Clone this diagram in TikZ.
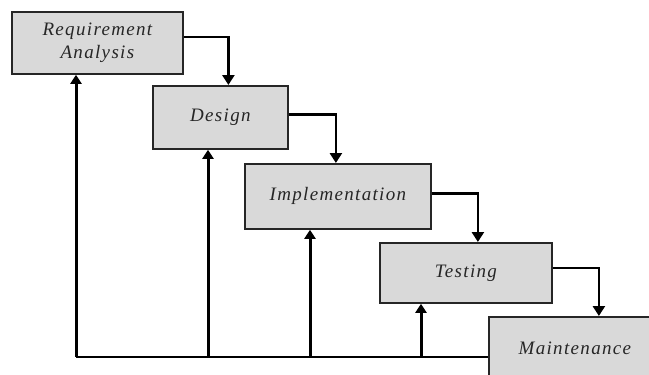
\documentclass[tikz,border=0pt]{standalone}
\usepackage{fontspec}
\setmainfont{Liberation Serif}
\usetikzlibrary{arrows.meta}

\tikzset{
  phase/.style={draw=black!85, line width=1.8pt, fill=black!15, anchor=north west,
    font=\fontsize{19}{23}\selectfont\itshape\addfontfeature{LetterSpace=7},
    text=black!85, align=center, inner sep=0pt},
  flow/.style={draw=black, line width=2.6pt, -{Triangle[width=12pt,length=10pt]}},
  back/.style={draw=black, line width=3pt, -{Triangle[width=11pt,length=9pt]}}
}

\begin{document}
\begin{tikzpicture}[x=1pt,y=-1pt]
  \useasboundingbox (0,0) rectangle (649,375);

  % the five phases
  \node[phase, minimum width=171pt, minimum height=62pt] (req) at (11,11) {Requirement\\Analysis};
  \node[phase, minimum width=135pt, minimum height=63pt] (des) at (152,85) {Design};
  \node[phase, minimum width=186pt, minimum height=65pt] (imp) at (244,163) {Implementation};
  \node[phase, minimum width=172pt, minimum height=60pt] (tst) at (379,242) {Testing};
  \node[phase, minimum width=172pt, minimum height=62pt] (mnt) at (488,316) {Maintenance};

  % going down the steps
  \draw[flow] ([yshift=6pt]req.east) -| ([xshift=8pt]des.north);
  \draw[flow] ([yshift=3pt]des.east) -| ([xshift=-2pt]imp.north);
  \draw[flow] ([yshift=3pt]imp.east) -| ([xshift=12pt]tst.north);
  \draw[flow] ([yshift=5pt]tst.east) -| ([xshift=24pt]mnt.north);

  % feedback lines
  \coordinate (b1) at (76,357);
  \coordinate (b2) at (208,357);
  \coordinate (b3) at (310,357);
  \coordinate (b4) at (421,357);
  \draw[black, line width=2pt] (b1) -- (b1 -| mnt.west);
  \draw[back] (b1) -- (b1 |- req.south);
  \draw[back] (b2) -- (b2 |- des.south);
  \draw[back] (b3) -- (b3 |- imp.south);
  \draw[back] (b4) -- (b4 |- tst.south);

\end{tikzpicture}
\end{document}
